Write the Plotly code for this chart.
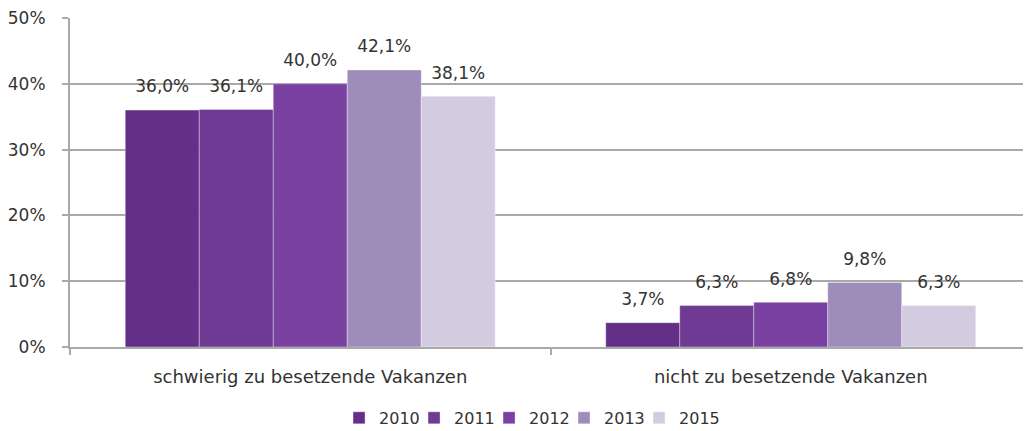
import plotly.graph_objects as go

categories = ["schwierig zu besetzende Vakanzen", "nicht zu besetzende Vakanzen"]
years = ["2010", "2011", "2012", "2013", "2015"]
v2010 = [36.0, 3.7]
v2011 = [36.1, 6.3]
v2012 = [40.0, 6.8]
v2013 = [42.1, 9.8]
v2015 = [38.1, 6.3]
series = [v2010, v2011, v2012, v2013, v2015]
colors = ["#643087", "#6e3a94", "#7a40a2", "#a08cba", "#d3cce0"]

FONT = "DejaVu Sans"
TXT = "#333333"
FS = 17

fig = go.Figure()
for i, (yr, vals) in enumerate(zip(years, series)):
    fig.add_trace(go.Bar(
        x=categories, y=vals, name=yr, offsetgroup=str(i),
        marker=dict(color=colors[i], line=dict(color="rgba(255,255,255,0.35)", width=1)),
    ))
for i, (yr, vals) in enumerate(zip(years, series)):
    fig.add_trace(go.Scatter(
        x=categories, y=vals, mode="markers+text", offsetgroup=str(i),
        text=[f"{v:.1f}".replace(".", ",") + "%" for v in vals],
        textposition="top center",
        textfont=dict(family=FONT, size=FS, color=TXT),
        marker=dict(size=20, opacity=0),
        showlegend=False, hoverinfo="skip", cliponaxis=False,
    ))
# invisible spacer legend entry so the last (narrow) entry text is not clipped
fig.add_trace(go.Scatter(x=[None], y=[None], mode="markers", name=" ",
                         offsetgroup="4",
                         marker=dict(color="rgba(0,0,0,0)", size=1,
                                     line=dict(width=0, color="rgba(0,0,0,0)")),
                         hoverinfo="skip", showlegend=True))

# page body has an 8px default margin; compensate
fig.update_layout(
    width=1023, height=423,
    margin=dict(l=58, r=0, t=10, b=84),
    paper_bgcolor="white", plot_bgcolor="white",
    barmode="group", bargap=0.23, bargroupgap=0,
    scattermode="group", scattergap=0.23,
    font=dict(family=FONT, size=FS, color=TXT),
    legend=dict(orientation="h", xref="container", x=0.3236, xanchor="left",
                yref="container", y=0.031, yanchor="middle",
                font=dict(family=FONT, size=16, color=TXT),
                itemwidth=30, tracegroupgap=0,
                entrywidth=30, entrywidthmode="pixels"),
    showlegend=True,
)
fig.update_yaxes(range=[0, 50], dtick=10, ticksuffix="%",
                 showgrid=True, gridcolor="#a9a9a9", gridwidth=2,
                 showline=True, linecolor="#a9a9a9", linewidth=2,
                 ticks="outside", ticklen=6, tickcolor="#a9a9a9", tickwidth=2,
                 ticklabelstandoff=13, ticklabeloverflow="allow", zeroline=False,
                 tickfont=dict(family=FONT, size=FS, color=TXT))
fig.update_xaxes(showline=True, linecolor="#a9a9a9", linewidth=2,
                 ticks="outside", tickson="boundaries", ticklen=6,
                 tickcolor="#a9a9a9", tickwidth=2, ticklabelstandoff=12,
                 tickfont=dict(family=FONT, size=18, color=TXT))

fig.write_html("out.html")
